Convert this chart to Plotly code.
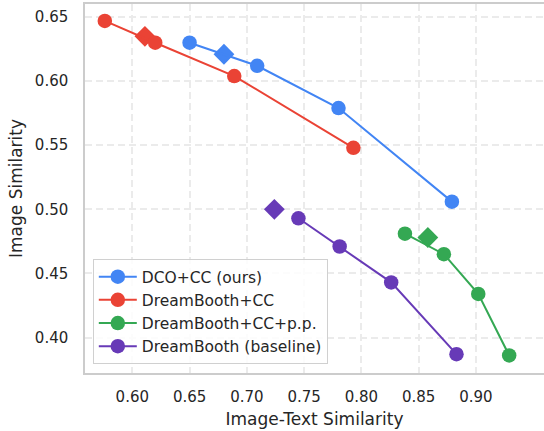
import plotly.graph_objects as go

# Data
series_names = ["DCO+CC (ours)", "DreamBooth+CC", "DreamBooth+CC+p.p.", "DreamBooth (baseline)"]
series_colors = ["#4285F4", "#EA4335", "#34A853", "#673AB7"]

dco_x = [0.650, 0.709, 0.780, 0.879]
dco_y = [0.630, 0.612, 0.579, 0.506]
dco_dx = [0.680]
dco_dy = [0.621]

dbcc_x = [0.576, 0.620, 0.689, 0.793]
dbcc_y = [0.647, 0.630, 0.604, 0.548]
dbcc_dx = [0.611]
dbcc_dy = [0.635]

dbpp_x = [0.838, 0.872, 0.902, 0.929]
dbpp_y = [0.481, 0.465, 0.434, 0.386]
dbpp_dx = [0.858]
dbpp_dy = [0.478]

db_x = [0.745, 0.781, 0.826, 0.883]
db_y = [0.493, 0.471, 0.443, 0.387]
db_dx = [0.724]
db_dy = [0.500]

x_ticks = [0.60, 0.65, 0.70, 0.75, 0.80, 0.85, 0.90]
y_ticks = [0.40, 0.45, 0.50, 0.55, 0.60, 0.65]

lines = [(dco_x, dco_y), (dbcc_x, dbcc_y), (dbpp_x, dbpp_y), (db_x, db_y)]
diamonds = [(dco_dx, dco_dy), (dbcc_dx, dbcc_dy), (dbpp_dx, dbpp_dy), (db_dx, db_dy)]

fig = go.Figure()
for (dx, dy), c in zip(diamonds, series_colors):
    fig.add_trace(go.Scatter(x=dx, y=dy, mode="markers", showlegend=False,
                             marker=dict(symbol="diamond", size=16, color=c),
                             hoverinfo="skip"))
for (lx, ly), c, n in zip(lines, series_colors, series_names):
    fig.add_trace(go.Scatter(x=lx, y=ly, mode="lines+markers", name=n,
                             line=dict(color=c, width=2),
                             marker=dict(symbol="circle", size=14.5, color=c)))

font = "DejaVu Sans, Liberation Sans, sans-serif"
fig.update_layout(
    width=544, height=431,
    margin=dict(l=85, r=0, t=4, b=58),
    paper_bgcolor="white", plot_bgcolor="white",
    font=dict(family=font, size=15, color="#262626"),
    legend=dict(x=0.017, y=0.024, xanchor="left", yanchor="bottom",
                bgcolor="rgba(255,255,255,0.85)", bordercolor="#d0d0d0", borderwidth=1,
                font=dict(size=15.5, color="#262626"), tracegroupgap=0,
                itemwidth=38),
    xaxis=dict(range=[0.5587, 0.9594], tickvals=x_ticks,
               ticktext=[f"{v:.2f}" for v in x_ticks],
               showgrid=True, gridcolor="#ebebeb", gridwidth=1.5, griddash="7px,4px",
               showline=True, linecolor="#cccccc", linewidth=1.5, mirror=True,
               zeroline=False, ticks="", ticklabelstandoff=9,
               title=dict(text="Image-Text Similarity", font=dict(size=17), standoff=8)),
    yaxis=dict(range=[0.3723, 0.6602], tickvals=y_ticks,
               ticktext=[f"{v:.2f}" for v in y_ticks],
               showgrid=True, gridcolor="#ebebeb", gridwidth=1.5, griddash="7px,4px",
               showline=True, linecolor="#cccccc", linewidth=1.5, mirror=False,
               zeroline=False, ticks="", ticklabelstandoff=12,
               title=dict(text="Image Similarity", font=dict(size=17), standoff=8)),
)

fig.write_html("out.html")
